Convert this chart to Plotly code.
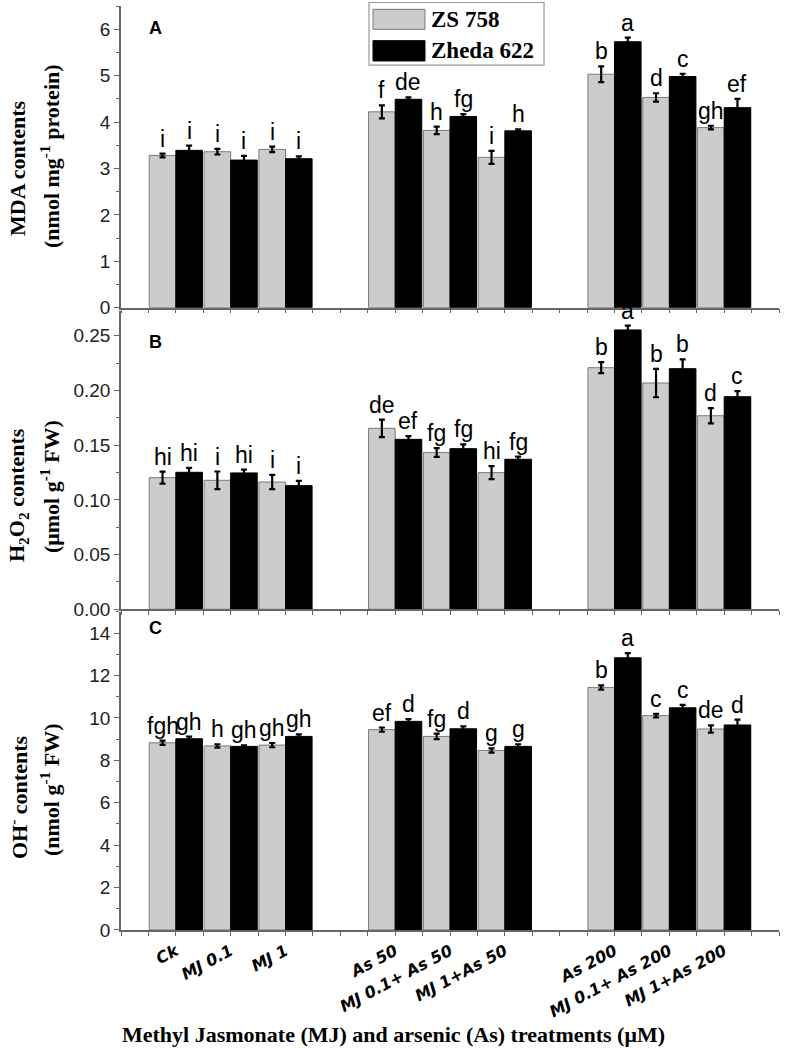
import plotly.graph_objects as go

# ---------------- data ----------------
treatments = ["Ck", "MJ 0.1", "MJ 1", "As 50", "MJ 0.1+ As 50", "MJ 1+As 50",
              "As 200", "MJ 0.1+ As 200", "MJ 1+As 200"]
cultivars = ["ZS 758", "Zheda 622"]

mda_zs = [3.28, 3.36, 3.41, 4.22, 3.82, 3.24, 5.03, 4.53, 3.88]
mda_zs_err = [0.04, 0.06, 0.06, 0.14, 0.08, 0.14, 0.17, 0.09, 0.04]
mda_zs_let = ["i", "i", "i", "f", "h", "i", "b", "d", "gh"]
mda_zh = [3.39, 3.18, 3.21, 4.49, 4.12, 3.81, 5.73, 4.98, 4.31]
mda_zh_err = [0.10, 0.09, 0.05, 0.04, 0.05, 0.03, 0.09, 0.06, 0.19]
mda_zh_let = ["i", "i", "i", "de", "fg", "h", "a", "c", "ef"]

h2o2_zs = [0.1203, 0.1179, 0.1163, 0.1654, 0.1432, 0.1249, 0.2208, 0.2068, 0.1769]
h2o2_zs_err = [0.0055, 0.008, 0.0065, 0.008, 0.004, 0.006, 0.005, 0.013, 0.007]
h2o2_zs_let = ["hi", "i", "i", "de", "fg", "hi", "b", "b", "d"]
h2o2_zh = [0.1252, 0.1246, 0.1130, 0.1553, 0.1468, 0.1371, 0.2553, 0.2199, 0.1943]
h2o2_zh_err = [0.004, 0.003, 0.0043, 0.003, 0.004, 0.0025, 0.004, 0.0085, 0.005]
h2o2_zh_let = ["hi", "hi", "i", "ef", "fg", "fg", "a", "b", "c"]

oh_zs = [8.83, 8.68, 8.72, 9.45, 9.13, 8.47, 11.44, 10.11, 9.48]
oh_zs_err = [0.10, 0.08, 0.10, 0.10, 0.13, 0.10, 0.10, 0.08, 0.17]
oh_zs_let = ["fgh", "h", "gh", "ef", "fg", "g", "b", "c", "de"]
oh_zh = [9.02, 8.66, 9.13, 9.84, 9.49, 8.66, 12.84, 10.48, 9.67]
oh_zh_err = [0.10, 0.05, 0.10, 0.11, 0.11, 0.10, 0.22, 0.14, 0.25]
oh_zh_let = ["gh", "gh", "gh", "d", "d", "g", "a", "c", "d"]

panel_letters = ["A", "B", "C"]
ytitle1 = ["MDA contents", "H<sub>2</sub>O<sub>2</sub> contents", "OH<sup>-</sup> contents"]
ytitle2 = ["(nmol mg<sup>-1</sup> protein)", "(\u03bcmol g<sup>-1</sup> FW)", "(nmol g<sup>-1</sup> FW)"]
xtitle = "Methyl Jasmonate (MJ) and arsenic (As) treatments (\u03bcM)"

# ---------------- layout helpers ----------------
pos = [i + i // 3 for i in range(len(treatments))]   # a blank slot between treatment blocks
BARGAP = 0.03
half = (1 - BARGAP) / 4

GRAY = "#cccccc"
AX = "#666666"
SERIF = "Liberation Serif"
SANS = "Liberation Sans"

panels = [
    (mda_zs, mda_zs_err, mda_zs_let, mda_zh, mda_zh_err, mda_zh_let),
    (h2o2_zs, h2o2_zs_err, h2o2_zs_let, h2o2_zh, h2o2_zh_err, h2o2_zh_let),
    (oh_zs, oh_zs_err, oh_zs_let, oh_zh, oh_zh_err, oh_zh_let),
]
yranges = [[0, 6.5], [0, 0.2726], [0, 15]]
ydomains = [[0.6735, 1.0], [0.3471, 0.6699], [0.0, 0.3442]]
ydticks = [1, 0.05, 2]
yminor = [0.5, 0.025, 1]
yfmt = ["d", ".2f", "d"]

fig = go.Figure()
annotations = []

for p, (zs, zse, zsl, zh, zhe, zhl) in enumerate(panels):
    xa = "x" if p == 0 else f"x{p+1}"
    ya = "y" if p == 0 else f"y{p+1}"
    fig.add_trace(go.Bar(
        x=pos, y=zs, name=cultivars[0], xaxis=xa, yaxis=ya, offsetgroup="zs",
        marker=dict(color=GRAY, line=dict(color="#7a7a7a", width=1)),
        error_y=dict(type="data", array=zse, color="black", thickness=2.2, width=3),
        showlegend=False))
    fig.add_trace(go.Bar(
        x=pos, y=zh, name=cultivars[1], xaxis=xa, yaxis=ya, offsetgroup="zh",
        marker=dict(color="black", line=dict(color="black", width=1)),
        error_y=dict(type="data", array=zhe, color="black", thickness=2.2, width=3),
        showlegend=False))
    for i in range(len(treatments)):
        for xv, val, err, lab in ((pos[i] - half, zs[i], zse[i], zsl[i]),
                                  (pos[i] + half, zh[i], zhe[i], zhl[i])):
            annotations.append(dict(
                x=xv, y=val + err, xref=xa, yref=ya, text=lab, showarrow=False,
                yanchor="bottom", xanchor="center", yshift=0,
                font=dict(family=SANS, size=23, color="black")))

    axkey = "xaxis" if p == 0 else f"xaxis{p+1}"
    aykey = "yaxis" if p == 0 else f"yaxis{p+1}"
    xdict = dict(domain=[0, 1], range=[-1, 11], anchor=ya, showgrid=False, zeroline=False,
                 automargin=False,
                 showline=True, linecolor=AX, linewidth=1.5, ticks="outside", ticklen=4,
                 tickcolor=AX, tickwidth=1.2, tickmode="array", tickvals=pos,
                 ticktext=treatments,
                 minor=dict(ticks="outside", ticklen=4, tick0=-1, dtick=0.5,
                            tickcolor=AX, tickwidth=1.2, showgrid=False))
    if p == 2:
        xdict.update(tickangle=-28,
                     tickfont=dict(family="DejaVu Sans", size=16, color="black",
                                   weight="bold", style="italic"))
    else:
        xdict.update(matches="x3", showticklabels=False)
    fig.update_layout({axkey: xdict})
    fig.update_layout({aykey: dict(
        domain=ydomains[p], range=yranges[p], anchor=xa, showgrid=False, zeroline=False,
        automargin=False,
        showline=True, linecolor=AX, linewidth=1.5, ticks="outside", ticklen=5,
        tickcolor=AX, tickwidth=1.2, dtick=ydticks[p], tick0=0, tickformat=yfmt[p],
        tickfont=dict(family=SANS, size=19, color="#222222"),
        minor=dict(ticks="outside", ticklen=3, dtick=yminor[p], tickcolor=AX, showgrid=False))})

# panel letters
pl_y = [0.9892, 0.6364, 0.3139]
for p in range(3):
    annotations.append(dict(x=0.0395, y=pl_y[p], xref="paper", yref="paper",
                            text="<b>%s</b>" % panel_letters[p], showarrow=False,
                            font=dict(family=SANS, size=18, color="black")))

# y-axis titles (two lines)
t1_y = [0.8236, 0.4708, 0.1439]
t2_y = [0.8377, 0.4794, 0.1515]
for p in range(3):
    annotations.append(dict(x=-0.1565, y=t1_y[p], xref="paper", yref="paper",
                            text="<b>%s</b>" % ytitle1[p], textangle=-90, showarrow=False,
                            xanchor="center", yanchor="middle",
                            font=dict(family=SERIF, size=22, color="black")))
    annotations.append(dict(x=-0.1079, y=t2_y[p], xref="paper", yref="paper",
                            text="<b>%s</b>" % ytitle2[p], textangle=-90, showarrow=False,
                            xanchor="center", yanchor="middle",
                            font=dict(family=SERIF, size=22, color="black")))

# x-axis title
annotations.append(dict(x=0.4134, y=-0.1136, xref="paper", yref="paper",
                        text="<b>%s</b>" % xtitle, showarrow=False,
                        xanchor="center", yanchor="middle",
                        font=dict(family=SERIF, size=22, color="black")))

# legend (drawn box with swatches)
shapes = [
    dict(type="rect", xref="paper", yref="paper", x0=0.3769, x1=0.6429, y0=0.9361, y1=1.0038,
         line=dict(color="#999999", width=1.2), fillcolor="white", layer="above"),
    dict(type="rect", xref="paper", yref="paper", x0=0.3830, x1=0.4620, y0=0.9748, y1=0.9964,
         line=dict(color="#7a7a7a", width=1), fillcolor=GRAY, layer="above"),
    dict(type="rect", xref="paper", yref="paper", x0=0.3830, x1=0.4620, y0=0.9405, y1=0.9625,
         line=dict(color="black", width=1), fillcolor="black", layer="above"),
]
leg_y = [0.9854, 0.9513]
for k in range(2):
    annotations.append(dict(x=0.4681, y=leg_y[k], xref="paper", yref="paper",
                            text="<b>%s</b>" % cultivars[k], showarrow=False,
                            xanchor="left", yanchor="middle",
                            font=dict(family=SERIF, size=23, color="black")))

fig.update_layout(
    width=787, height=1051,
    margin=dict(l=121, r=8, t=6, b=121),
    paper_bgcolor="white", plot_bgcolor="white",
    barmode="group", bargap=BARGAP, bargroupgap=0,
    showlegend=False,
    annotations=annotations, shapes=shapes,
)

fig.write_html("out.html", config={"displayModeBar": False},
               post_script="document.body.style.margin='0';document.body.style.overflow='hidden';")
